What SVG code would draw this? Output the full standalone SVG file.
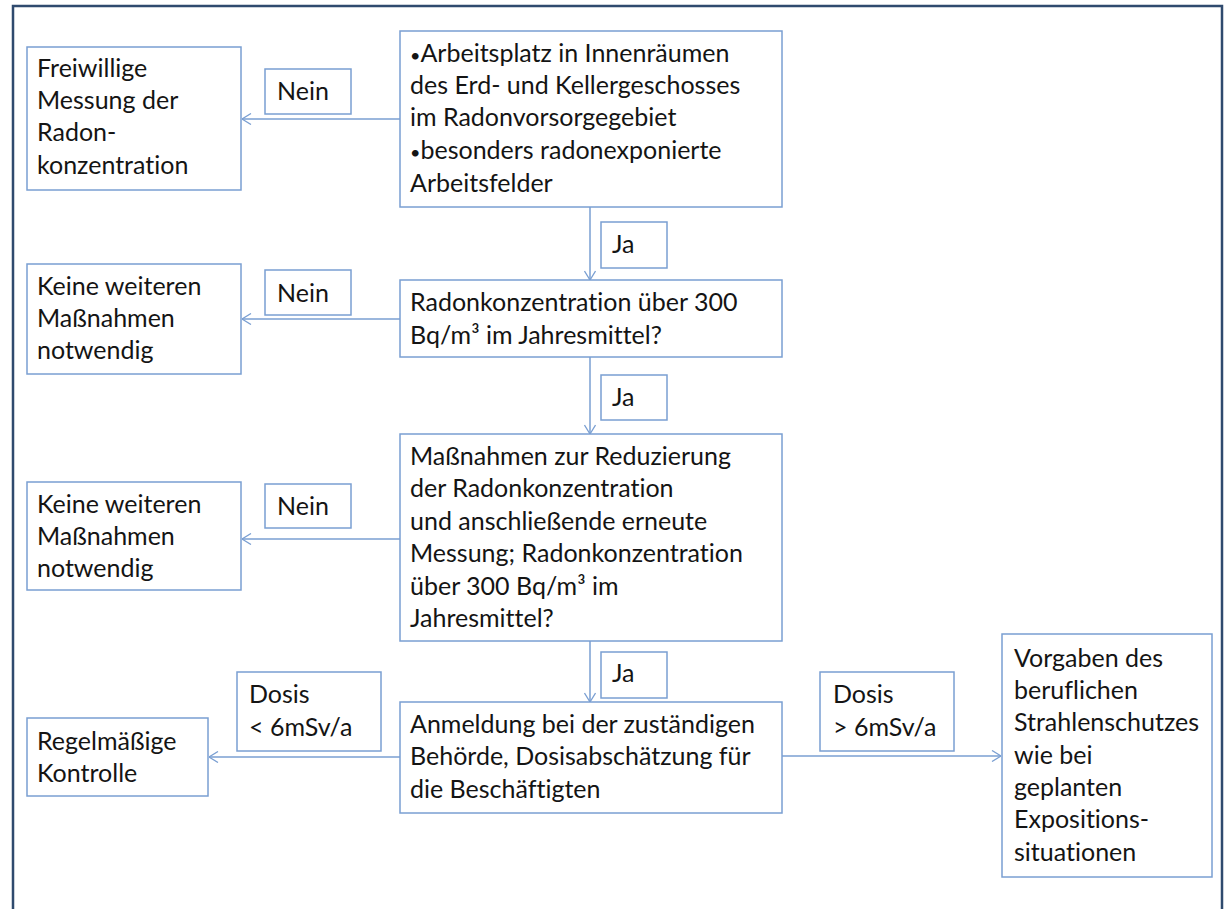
<svg xmlns="http://www.w3.org/2000/svg" width="1224" height="909" viewBox="0 0 1224 909">
<defs>
<style>
.box{fill:#fff;stroke:#7a9fd2;stroke-width:1.5}
.lbl{fill:#fff;stroke:#7a9fd2;stroke-width:1.5}
.con{fill:none;stroke:#7a9fd2;stroke-width:1.5}
text{font-family:Lato,"Liberation Sans",sans-serif;font-size:25px;fill:#141414;font-variant-ligatures:none;font-feature-settings:"liga" 0}
.b{font-size:18px}
</style>
<marker id="arr" viewBox="0 0 10 12" refX="10" refY="6" markerWidth="10" markerHeight="12" markerUnits="userSpaceOnUse" orient="auto">
<path d="M1,0.5 L10,6 L1,11.5" fill="none" stroke="#7a9fd2" stroke-width="1.3"/>
</marker>
</defs>
<rect width="1224" height="909" fill="#fff"/>
<path d="M13,920 L13,6 L1222,6 L1222,920" fill="none" stroke="#2f4a6e" stroke-width="2.5"/>
<g id="connectors">
<line class="con" x1="400" y1="119" x2="242" y2="119" marker-end="url(#arr)"/>
<line class="con" x1="590" y1="207" x2="590" y2="280" marker-end="url(#arr)"/>
<line class="con" x1="400" y1="319" x2="242" y2="319" marker-end="url(#arr)"/>
<line class="con" x1="590" y1="357" x2="590" y2="434" marker-end="url(#arr)"/>
<line class="con" x1="400" y1="539" x2="242" y2="539" marker-end="url(#arr)"/>
<line class="con" x1="590" y1="641" x2="590" y2="702" marker-end="url(#arr)"/>
<line class="con" x1="400" y1="757" x2="209" y2="757" marker-end="url(#arr)"/>
<line class="con" x1="782" y1="756" x2="1001" y2="756" marker-end="url(#arr)"/>
</g>
<g id="n1">
<rect class="box" x="400" y="31" width="382" height="176"/>
<text x="410" y="62"><tspan class="b">•</tspan>Arbeitsplatz in Innenräumen</text>
<text x="410" y="94">des Erd- und Kellergeschosses</text>
<text x="410" y="126">im Radonvorsorgegebiet</text>
<text x="410" y="159"><tspan class="b">•</tspan>besonders radonexponierte</text>
<text x="410" y="192">Arbeitsfelder</text>
</g>
<g id="n_freiwillig">
<rect class="box" x="27" y="47" width="214" height="143"/>
<text x="37" y="77">Freiwillige</text>
<text x="37" y="109">Messung der</text>
<text x="37" y="141">Radon-</text>
<text x="37" y="174">konzentration</text>
</g>
<g id="l_nein1">
<rect class="lbl" x="265" y="69" width="86" height="45"/>
<text x="277" y="100">Nein</text>
</g>
<g id="l_ja1">
<rect class="lbl" x="601" y="222" width="66" height="46"/>
<text x="612" y="253">Ja</text>
</g>
<g id="n2">
<rect class="box" x="400" y="280" width="382" height="77"/>
<text x="410" y="311">Radonkonzentration über 300</text>
<text x="410" y="344">Bq/m³ im Jahresmittel?</text>
</g>
<g id="n_keine1">
<rect class="box" x="27" y="264" width="214" height="110"/>
<text x="37" y="295">Keine weiteren</text>
<text x="37" y="327">Maßnahmen</text>
<text x="37" y="359">notwendig</text>
</g>
<g id="l_nein2">
<rect class="lbl" x="265" y="270" width="86" height="45"/>
<text x="277" y="302">Nein</text>
</g>
<g id="l_ja2">
<rect class="lbl" x="601" y="375" width="66" height="45"/>
<text x="612" y="406">Ja</text>
</g>
<g id="n3">
<rect class="box" x="400" y="434" width="382" height="207"/>
<text x="410" y="465">Maßnahmen zur Reduzierung</text>
<text x="410" y="497">der Radonkonzentration</text>
<text x="410" y="530">und anschließende erneute</text>
<text x="410" y="562">Messung; Radonkonzentration</text>
<text x="410" y="595">über 300 Bq/m³ im</text>
<text x="410" y="627">Jahresmittel?</text>
</g>
<g id="n_keine2">
<rect class="box" x="27" y="482" width="214" height="108"/>
<text x="37" y="513">Keine weiteren</text>
<text x="37" y="545">Maßnahmen</text>
<text x="37" y="577">notwendig</text>
</g>
<g id="l_nein3">
<rect class="lbl" x="265" y="484" width="86" height="44"/>
<text x="277" y="515">Nein</text>
</g>
<g id="l_ja3">
<rect class="lbl" x="601" y="652" width="66" height="46"/>
<text x="612" y="682">Ja</text>
</g>
<g id="n4">
<rect class="box" x="400" y="702" width="382" height="111"/>
<text x="410" y="733">Anmeldung bei der zuständigen</text>
<text x="410" y="765">Behörde, Dosisabschätzung für</text>
<text x="410" y="798">die Beschäftigten</text>
</g>
<g id="n_regel">
<rect class="box" x="27" y="718" width="181" height="78"/>
<text x="37" y="750">Regelmäßige</text>
<text x="37" y="782">Kontrolle</text>
</g>
<g id="l_dosis_lt">
<rect class="lbl" x="237" y="672" width="144" height="79"/>
<text x="249" y="703">Dosis</text>
<text x="249" y="736">&lt; 6mSv/a</text>
</g>
<g id="l_dosis_gt">
<rect class="lbl" x="820" y="672" width="134" height="79"/>
<text x="833" y="703">Dosis</text>
<text x="833" y="736">&gt; 6mSv/a</text>
</g>
<g id="n_vorgaben">
<rect class="box" x="1002" y="634" width="210" height="243"/>
<text x="1014" y="667">Vorgaben des</text>
<text x="1014" y="699">beruflichen</text>
<text x="1014" y="731">Strahlenschutzes</text>
<text x="1014" y="764">wie bei</text>
<text x="1014" y="796">geplanten</text>
<text x="1014" y="828">Expositions-</text>
<text x="1014" y="861">situationen</text>
</g>
</svg>
